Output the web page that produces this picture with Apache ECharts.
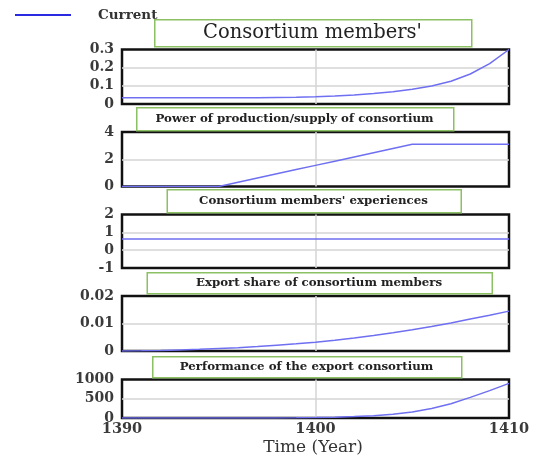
<!DOCTYPE html>
<html>
<head>
<meta charset="utf-8">
<script src="https://cdn.jsdelivr.net/npm/echarts@6/dist/echarts.min.js"></script>
<style>
  html, body { margin: 0; padding: 0; background: #fff; }
  #chart { width: 534px; height: 456px; }
</style>
</head>
<body>
<div id="chart"></div>
<script>
// Simulation years (x axis)
const years = [1390, 1391, 1392, 1393, 1394, 1395, 1396, 1397, 1398, 1399, 1400,
               1401, 1402, 1403, 1404, 1405, 1406, 1407, 1408, 1409, 1410];

// Panel variables, one value per year
const consortiumMembers = [0.035, 0.035, 0.035, 0.035, 0.035, 0.035, 0.035, 0.035, 0.036, 0.037, 0.04,
                           0.044, 0.05, 0.058, 0.068, 0.081, 0.099, 0.125, 0.165, 0.222, 0.3];
const productionPower = [0, 0, 0, 0, 0, 0, 0.31, 0.62, 0.93, 1.24, 1.55,
                         1.86, 2.17, 2.48, 2.79, 3.1, 3.1, 3.1, 3.1, 3.1, 3.1];
const membersExperience = [0.63, 0.63, 0.63, 0.63, 0.63, 0.63, 0.63, 0.63, 0.63, 0.63, 0.63,
                           0.63, 0.63, 0.63, 0.63, 0.63, 0.63, 0.63, 0.63, 0.63, 0.63];
const exportShare = [0, 0.00005, 0.0002, 0.0004, 0.0006, 0.0009, 0.0012, 0.0016, 0.0021, 0.0026, 0.0032,
                     0.0039, 0.0047, 0.0056, 0.0066, 0.0077, 0.0089, 0.0102, 0.0116, 0.013, 0.0145];
const consortiumPerformance = [0, 0, 0, 0, 0, 0, 0, 1, 3, 6, 12,
                               22, 37, 60, 95, 155, 245, 370, 535, 710, 900];

// Panel titles and y-axis ranges
const panelTitles = [
  "Consortium members'",
  'Power of production/supply of consortium',
  "Consortium members' experiences",
  'Export share of consortium members',
  'Performance of the export consortium'
];
const yMins = [0, 0, -1, 0, 0];
const yMaxs = [0.3, 4, 2, 0.02, 1000];
const yIntervals = [0.1, 2, 1, 0.01, 500];
const seriesName = 'Current';
const xTitle = 'Time (Year)';

const panelData = [consortiumMembers, productionPower, membersExperience, exportShare, consortiumPerformance];

// Layout of the stacked panels
const plotLeft = 122, plotRight = 25;
const panelTops = [49.5, 132, 214.5, 296, 379.5];
const panelHeights = [54.5, 54.5, 53.5, 55, 38.5];
const titleBoxes = [
  { x: 154, y: 19, w: 317, h: 27, size: 19.5, weight: 'normal' },
  { x: 136, y: 107, w: 317, h: 23, size: 11.8, weight: 'bold' },
  { x: 166.5, y: 189, w: 294, h: 23, size: 11.8, weight: 'bold' },
  { x: 146.5, y: 272, w: 345, h: 21, size: 11.8, weight: 'bold' },
  { x: 152, y: 356, w: 309, h: 21, size: 11.8, weight: 'bold' }
];

const FONT = 'DejaVu Serif';
const LINE_COLOR = '#6f6ff2';
const TEXT_COLOR = '#3a3a3a';
const GRID_LINE = { show: true, showMinLine: false, showMaxLine: false, lineStyle: { color: '#d4d4d4', width: 1.5 } };

const grids = [], xAxes = [], yAxes = [], series = [], graphics = [];

panelData.forEach((vals, i) => {
  grids.push({
    left: plotLeft, right: plotRight, top: panelTops[i], height: panelHeights[i],
    show: true, borderColor: '#111', borderWidth: 2.5, backgroundColor: '#fff'
  });
  const last = i === panelData.length - 1;
  xAxes.push({
    type: 'value', gridIndex: i, min: 1390, max: 1410, interval: 10,
    axisLine: { show: false }, axisTick: { show: false },
    axisLabel: {
      show: last, margin: 4, color: TEXT_COLOR, fontFamily: FONT, fontSize: 14.5, fontWeight: 'bold',
      formatter: v => String(v)
    },
    splitLine: GRID_LINE
  });
  yAxes.push({
    type: 'value', gridIndex: i, min: yMins[i], max: yMaxs[i], interval: yIntervals[i],
    axisLine: { show: false }, axisTick: { show: false },
    axisLabel: {
      margin: 8, color: TEXT_COLOR, fontFamily: FONT, fontSize: 14, fontWeight: 'bold',
      formatter: v => String(+v.toFixed(4))
    },
    splitLine: GRID_LINE
  });
  series.push({
    name: seriesName, type: 'line', xAxisIndex: i, yAxisIndex: i,
    data: years.map((y, k) => [y, vals[k]]),
    showSymbol: false, smooth: false,
    lineStyle: { color: LINE_COLOR, width: 1.5 },
    itemStyle: { color: LINE_COLOR },
    z: 5
  });

  const b = titleBoxes[i];
  graphics.push({
    type: 'rect', left: b.x, top: b.y, z: 20,
    shape: { width: b.w, height: b.h },
    style: { fill: '#fff', stroke: '#8cc065', lineWidth: 1.5 }
  });
  graphics.push({
    type: 'text', z: 21,
    x: b.x + b.w / 2, y: b.y + b.h / 2,
    style: {
      text: panelTitles[i], fill: '#222', font: b.weight + ' ' + b.size + 'px "' + FONT + '"',
      textAlign: 'center', textVerticalAlign: 'middle'
    }
  });
});

// Legend sample line and label
graphics.push({
  type: 'line', z: 20,
  shape: { x1: 15, y1: 15, x2: 71, y2: 15 },
  style: { stroke: '#2a2ae0', lineWidth: 1.8 }
});
graphics.push({
  type: 'text', z: 20, x: 98, y: 15,
  style: { text: seriesName, fill: '#333', font: 'bold 13.5px "' + FONT + '"', textVerticalAlign: 'middle' }
});
// X-axis title
graphics.push({
  type: 'text', z: 20, x: 313, y: 448,
  style: { text: xTitle, fill: '#333', font: '17px "' + FONT + '"', textAlign: 'center', textVerticalAlign: 'middle' }
});

const chart = echarts.init(document.getElementById('chart'), null, { renderer: 'canvas' });
chart.setOption({
  animation: false,
  backgroundColor: '#fff',
  grid: grids,
  xAxis: xAxes,
  yAxis: yAxes,
  series: series,
  graphic: graphics
});
</script>
</body>
</html>
